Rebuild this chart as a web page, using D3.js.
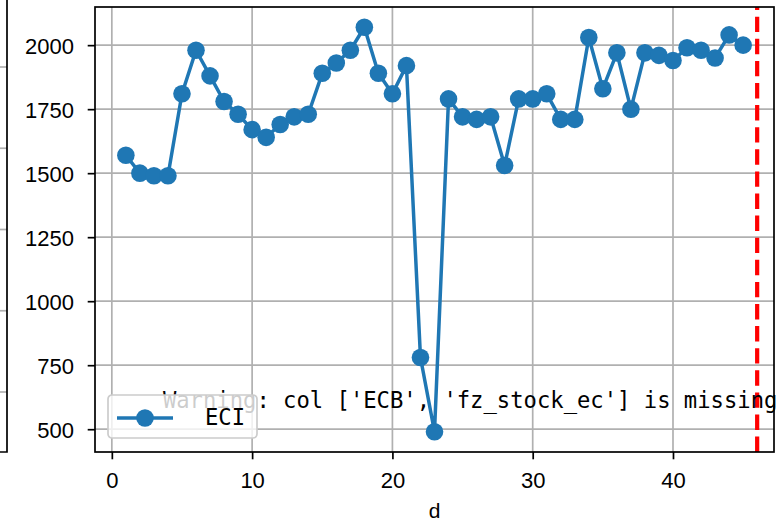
<!DOCTYPE html>
<html>
<head>
<meta charset="utf-8">
<script src="https://cdn.jsdelivr.net/npm/d3@7"></script>
<style>
  body { margin: 0; background: #fff; }
  svg { display: block; }
</style>
</head>
<body>
<script>
// dati
const giorni = [1, 2, 3, 4, 5, 6, 7, 8, 9, 10, 11, 12, 13, 14, 15, 16, 17, 18, 19, 20,
    21, 22, 23, 24, 25, 26, 27, 28, 29, 30, 31, 32, 33, 34, 35, 36, 37, 38, 39, 40,
    41, 42, 43, 44, 45];
const valoriECI = [1570, 1500, 1490, 1490, 1810, 1980, 1880, 1780, 1730, 1670,
    1640, 1690, 1720, 1730, 1890, 1930, 1980, 2070, 1890, 1810,
    1920, 780, 490, 1790, 1720, 1710, 1720, 1530, 1790, 1790,
    1810, 1710, 1710, 2030, 1830, 1970, 1750, 1970, 1960, 1940,
    1990, 1980, 1950, 2040, 2000];
const lineaVerticale = 46;
const tickX = [0, 10, 20, 30, 40];
const tickY = [500, 750, 1000, 1250, 1500, 1750, 2000];
const etichettaSerie = "ECI";
const etichettaX = "d";
const avviso = "Warning: col ['ECB', 'fz_stock_ec'] is missing";
// pannello precedente tagliato a sinistra (solo griglia)
const tickPannelloSinistro = [0, 1, 2, 3, 4];

const grafico = { sinistra: 95, destra: 774, alto: 7, basso: 452 };
const blu = "#1f77b4";
const fontTick = "'Liberation Sans', Arial, sans-serif";
const fontMono = "'DejaVu Sans Mono', 'Liberation Mono', monospace";

const svg = d3.select("body").append("svg")
    .attr("width", 782)
    .attr("height", 523);

// scale
const scalaX = d3.scaleLinear().domain([-1.2, 47.2]).range([grafico.sinistra, grafico.destra]);
const scalaY = d3.scaleLinear().domain([411, 2149]).range([grafico.basso, grafico.alto]);
const scalaSinistra = d3.scaleLinear().domain([0, 4]).range([392, 67]);

// resto del pannello a sinistra
svg.append("g").selectAll("line")
    .data(tickPannelloSinistro)
    .join("line")
    .attr("x1", 0).attr("x2", 7)
    .attr("y1", d => scalaSinistra(d)).attr("y2", d => scalaSinistra(d))
    .attr("stroke", "#b0b0b0").attr("stroke-width", 1.7);
svg.append("path")
    .attr("d", `M7,0 V${grafico.basso} H0`)
    .attr("fill", "none").attr("stroke", "#000").attr("stroke-width", 1.7);

// griglia
svg.append("g").selectAll("line")
    .data(tickX)
    .join("line")
    .attr("x1", d => scalaX(d)).attr("x2", d => scalaX(d))
    .attr("y1", grafico.alto).attr("y2", grafico.basso)
    .attr("stroke", "#b0b0b0").attr("stroke-width", 1.7);
svg.append("g").selectAll("line")
    .data(tickY)
    .join("line")
    .attr("x1", grafico.sinistra).attr("x2", grafico.destra)
    .attr("y1", d => scalaY(d)).attr("y2", d => scalaY(d))
    .attr("stroke", "#b0b0b0").attr("stroke-width", 1.7);

// linea ECI
const dati = giorni.map((g, i) => ({ x: g, y: valoriECI[i] }));
const lineaECI = d3.line()
    .x(d => scalaX(d.x))
    .y(d => scalaY(d.y));

svg.append("path")
    .datum(dati)
    .attr("d", lineaECI)
    .attr("fill", "none")
    .attr("stroke", blu)
    .attr("stroke-width", 3.5)
    .attr("stroke-linejoin", "round");

svg.append("g").selectAll("circle")
    .data(dati)
    .join("circle")
    .attr("cx", d => scalaX(d.x))
    .attr("cy", d => scalaY(d.y))
    .attr("r", 8.8)
    .attr("fill", blu);

// linea rossa tratteggiata (disegnata dal basso verso l'alto)
svg.append("line")
    .attr("x1", scalaX(lineaVerticale)).attr("x2", scalaX(lineaVerticale))
    .attr("y1", grafico.basso).attr("y2", grafico.alto)
    .attr("stroke", "red")
    .attr("stroke-width", 4.2)
    .attr("stroke-dasharray", "15.4,6.7");

// assi
let asseX = d3.axisBottom(scalaX).tickValues(tickX).tickSize(7.3).tickPadding(5).tickFormat(d3.format("d"));
let asseY = d3.axisLeft(scalaY).tickValues(tickY).tickSize(7.3).tickPadding(10).tickFormat(d3.format("d"));

const gX = svg.append("g")
    .attr("transform", `translate(0,${grafico.basso})`)
    .call(asseX);
const gY = svg.append("g")
    .attr("transform", `translate(${grafico.sinistra},0)`)
    .call(asseY);

[gX, gY].forEach(g => {
    g.select(".domain").remove();
    g.selectAll(".tick line").attr("stroke", "#000").attr("stroke-width", 1.7);
    g.selectAll(".tick text")
        .attr("fill", "#000")
        .style("font-family", fontTick)
        .style("font-size", "22px");
});
gX.selectAll(".tick text").attr("dy", null).attr("y", 36);
gY.selectAll(".tick text").attr("dy", "0.36em").attr("x", -21);

// bordo
svg.append("rect")
    .attr("x", grafico.sinistra).attr("y", grafico.alto)
    .attr("width", grafico.destra - grafico.sinistra)
    .attr("height", grafico.basso - grafico.alto)
    .attr("fill", "none").attr("stroke", "#000").attr("stroke-width", 1.7);

// titolo asse x
svg.append("text")
    .attr("x", (grafico.sinistra + grafico.destra) / 2)
    .attr("y", 518)
    .attr("text-anchor", "middle")
    .style("font-family", fontTick)
    .style("font-size", "21px")
    .text(etichettaX);

// testo di avviso (0.1, 0.1 in coordinate dell'asse)
svg.append("text")
    .attr("x", grafico.sinistra + 0.1 * (grafico.destra - grafico.sinistra))
    .attr("y", grafico.basso - 0.1 * (grafico.basso - grafico.alto))
    .style("font-family", fontMono)
    .style("font-size", "22.2px")
    .text(avviso);

// legenda (sopra il testo, come nel riferimento)
const legenda = svg.append("g").attr("transform", "translate(108,395)");
legenda.append("rect")
    .attr("width", 149).attr("height", 43)
    .attr("rx", 4)
    .attr("fill", "#fff").attr("fill-opacity", 0.8)
    .attr("stroke", "#ccc").attr("stroke-width", 1.7);
legenda.append("line")
    .attr("x1", 9).attr("x2", 65)
    .attr("y1", 23).attr("y2", 23)
    .attr("stroke", blu).attr("stroke-width", 3.5);
legenda.append("circle")
    .attr("cx", 37).attr("cy", 23).attr("r", 8.8)
    .attr("fill", blu);
legenda.append("text")
    .attr("x", 97).attr("y", 30)
    .style("font-family", fontMono)
    .style("font-size", "22.2px")
    .text(etichettaSerie);
</script>
</body>
</html>
